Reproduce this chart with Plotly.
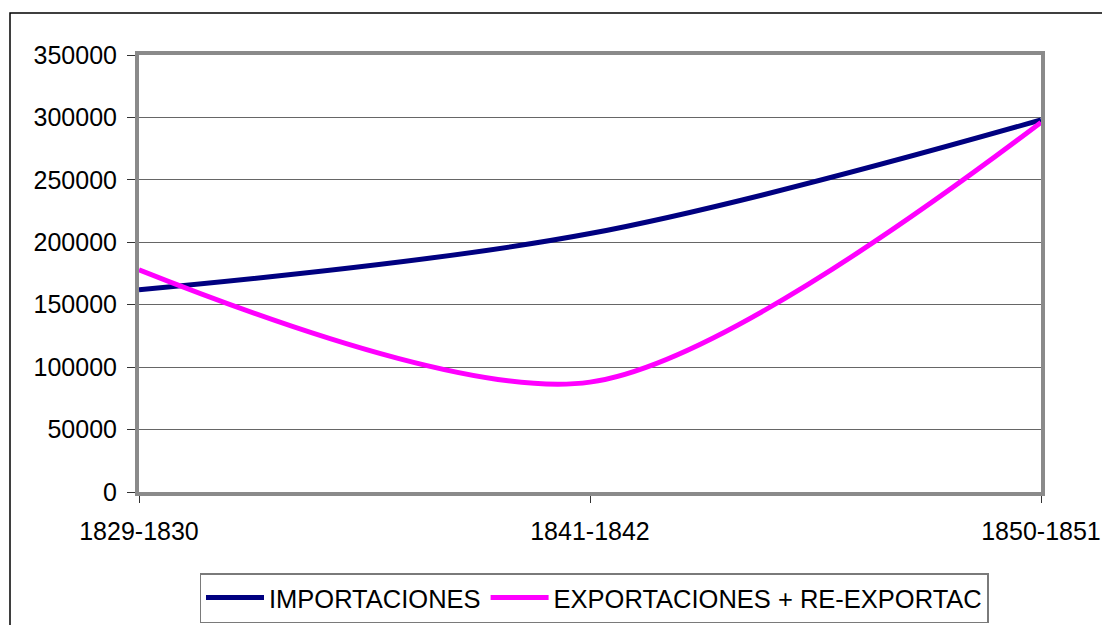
import plotly.graph_objects as go

categories = ["1829-1830", "1841-1842", "1850-1851"]
importaciones = [162000, 207000, 298000]
exportaciones = [178000, 88000, 296000]
y_ticks = [0, 50000, 100000, 150000, 200000, 250000, 300000, 350000]

# the page body adds an 8px offset, so the figure is sized/positioned to compensate
OFF = 8
W, H = 1110 - OFF, 625 - OFF
L, R, T, B = 139 - OFF, 1041 - OFF, 55 - OFF, 492 - OFF

fig = go.Figure()
fig.add_trace(go.Scatter(x=categories, y=importaciones, mode="lines", name="IMPORTACIONES",
                         line=dict(color="#000080", width=5, shape="spline", smoothing=1)))
fig.add_trace(go.Scatter(x=categories, y=exportaciones, mode="lines", name="EXPORTACIONES + RE-EXPORTAC",
                         line=dict(color="#ff00ff", width=5, shape="spline", smoothing=0.85)))

pw, ph = R - L, B - T
def px(x): return (x - OFF - L) / pw
def py(y): return (B - (y - OFF)) / ph

# outer chart frame
fig.add_shape(type="rect", xref="paper", yref="paper", x0=px(10), x1=px(1130), y0=py(13), y1=py(650),
              line=dict(color="black", width=1.5), layer="below")

fig.update_layout(
    width=W, height=H,
    margin=dict(l=L, r=W - R, t=T, b=H - B, pad=0, autoexpand=False),
    paper_bgcolor="white", plot_bgcolor="white",
    font=dict(family="Liberation Sans, Arial, sans-serif", size=25, color="black"),
    showlegend=True,
    legend=dict(orientation="h", xanchor="center", x=px(594), yanchor="top", y=py(573),
                bordercolor="#7a7a7a", borderwidth=1.5, bgcolor="white",
                font=dict(size=25.5), itemwidth=58, tracegroupgap=0),
)
fig.update_xaxes(type="category", range=[0, 2], showgrid=False, showline=True, mirror=True,
                 linecolor="#8a8a8a", linewidth=4, ticks="outside", ticklen=7, tickcolor="#333",
                 tickwidth=1, ticklabelstandoff=7, zeroline=False, automargin=False)
fig.update_yaxes(range=[0, 350000], tickvals=y_ticks, ticktext=[str(v) for v in y_ticks],
                 showgrid=True, gridcolor="#666666", gridwidth=1, showline=True, mirror=True,
                 linecolor="#8a8a8a", linewidth=4, ticks="outside", ticklen=8, tickcolor="#333",
                 tickwidth=1, ticklabelstandoff=5, zeroline=False, automargin=False)

fig.write_html("out.html")
